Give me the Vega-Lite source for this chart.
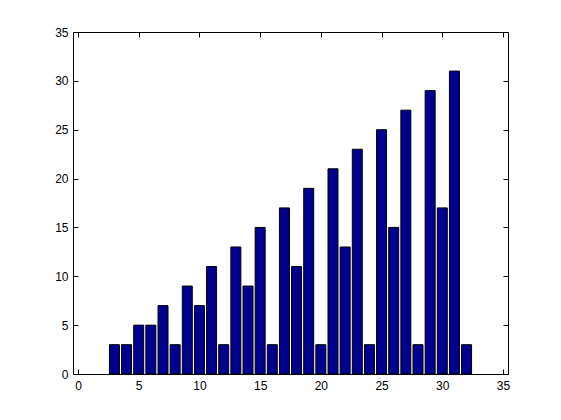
{
  "$schema": "https://vega.github.io/schema/vega-lite/v6.json",
  "autosize": "none",
  "width": 435,
  "height": 342,
  "padding": {"left": 73, "top": 32, "right": 53, "bottom": 46},
  "background": "white",
  "config": {
    "view": {"stroke": "black", "strokeWidth": 1},
    "axis": {
      "grid": false,
      "domain": false,
      "tickColor": "black",
      "tickSize": -5,
      "tickWidth": 1,
      "labelColor": "black",
      "labelFont": "Liberation Sans",
      "labelFontSize": 12,
      "labelPadding": 10,
      "title": null
    },
    "axisX": {"labelPadding": 11}
  },
  "data": {
    "values": [
      {"n": 3, "v": 3}, {"n": 4, "v": 3}, {"n": 5, "v": 5}, {"n": 6, "v": 5},
      {"n": 7, "v": 7}, {"n": 8, "v": 3}, {"n": 9, "v": 9}, {"n": 10, "v": 7},
      {"n": 11, "v": 11}, {"n": 12, "v": 3}, {"n": 13, "v": 13}, {"n": 14, "v": 9},
      {"n": 15, "v": 15}, {"n": 16, "v": 3}, {"n": 17, "v": 17}, {"n": 18, "v": 11},
      {"n": 19, "v": 19}, {"n": 20, "v": 3}, {"n": 21, "v": 21}, {"n": 22, "v": 13},
      {"n": 23, "v": 23}, {"n": 24, "v": 3}, {"n": 25, "v": 25}, {"n": 26, "v": 15},
      {"n": 27, "v": 27}, {"n": 28, "v": 3}, {"n": 29, "v": 29}, {"n": 30, "v": 17},
      {"n": 31, "v": 31}, {"n": 32, "v": 3}
    ]
  },
  "layer": [
    {
      "mark": {"type": "bar", "size": 10, "color": "#00008F", "stroke": "black", "strokeWidth": 1},
      "encoding": {
        "x": {"field": "n", "type": "quantitative", "scale": {"domain": [0, 35], "nice": false},
              "axis": {"values": [0, 5, 10, 15, 20, 25, 30, 35]}},
        "y": {"field": "v", "type": "quantitative", "scale": {"domain": [0, 35], "nice": false},
              "axis": {"values": [0, 5, 10, 15, 20, 25, 30, 35]}}
      }
    },
    {
      "mark": {"type": "point", "opacity": 0},
      "encoding": {
        "x": {"field": "n", "type": "quantitative", "scale": {"domain": [0, 35], "nice": false},
              "axis": {"orient": "top", "values": [0, 5, 10, 15, 20, 25, 30, 35], "labels": false}},
        "y": {"field": "v", "type": "quantitative", "scale": {"domain": [0, 35], "nice": false},
              "axis": {"orient": "right", "values": [0, 5, 10, 15, 20, 25, 30, 35], "labels": false}}
      }
    }
  ],
  "resolve": {"axis": {"x": "independent", "y": "independent"}}
}
